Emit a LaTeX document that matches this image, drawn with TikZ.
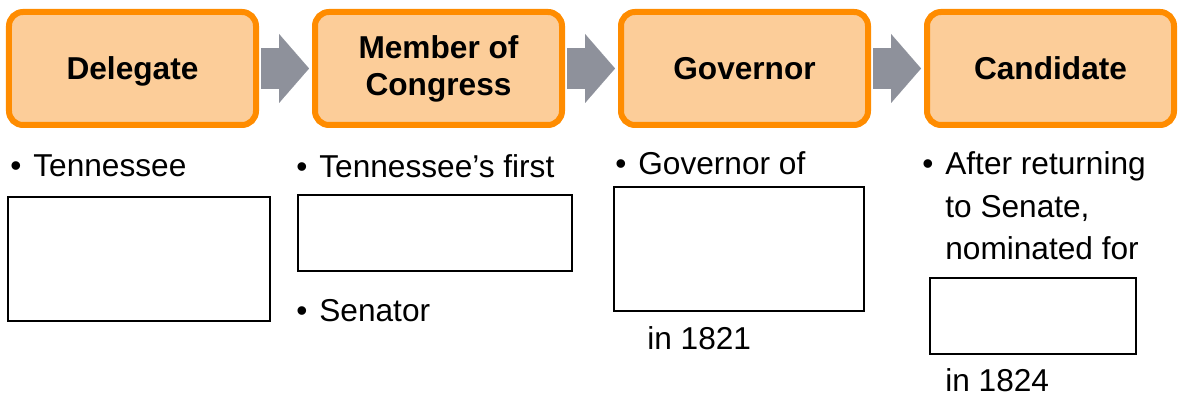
\documentclass[tikz,border=0pt]{standalone}
\usepackage{fontspec}
\setmainfont{Liberation Sans}
\usepackage{xcolor}
\usepackage{tikz}
\usetikzlibrary{positioning}
\usetikzlibrary{arrows.meta}
\definecolor{stageline}{RGB}{255,140,0}
\definecolor{stagefill}{RGB}{252,205,153}
\definecolor{flowgray}{RGB}{142,145,155}
\newcommand{\itm}{\makebox[0.46cm][l]{•}}
\tikzset{>=stealth}
\tikzset{
  stage/.style={draw=stageline, fill=stagefill, line width=0.12cm, rounded corners=0.28cm,
    minimum width=4.94cm, minimum height=2.26cm, align=center,
    font=\fontsize{18}{21}\selectfont\bfseries},
  flow/.style={color=flowgray, line width=0.82cm,
    -{Triangle[length=0.6cm,width=1.38cm,line width=0.01pt]},
    shorten <=0.04cm, shorten >=0.06cm},
  blank/.style={draw, line width=0.04cm, outer sep=0pt, anchor=north west},
  point/.style={anchor=base west, inner sep=0pt, align=left,
    font=\fontsize{18}{24.2}\selectfont}
}

\begin{document}
\begin{tikzpicture}[node distance=1.06cm]
        \useasboundingbox (0,0) rectangle (23.58,7.92);
        % the four stages
        \node[stage, text depth=0pt] (dlg) at (2.65,6.55) {Delegate};
        \node[stage, right=of dlg] (cng) {Member of\\Congress};
        \node[stage, right=of cng] (gov) {Governor};
        \node[stage, right=of gov] (cnd) {Candidate};
        \path[flow]
          (dlg) edge (cng)
          (cng) edge (gov)
          (gov) edge (cnd);
        % notes under each stage
        \node[point] (dlg-a) at (0.20,4.38) {\itm Tennessee};
        \node[blank, minimum width=5.24cm, minimum height=2.48cm] (dlg-b) at (0.16,3.98) {};
        \node[point] (cng-a) at (5.92,4.36) {\itm Tennessee’s first};
        \node[blank, minimum width=5.48cm, minimum height=1.52cm] (cng-b) at (5.96,4.02) {};
        \node[point] (cng-c) at (5.92,1.48) {\itm Senator};
        \node[point] (gov-a) at (12.30,4.42) {\itm Governor of};
        \node[blank, minimum width=5.0cm, minimum height=2.48cm] (gov-b) at (12.27,4.18) {};
        \node[point] (gov-c) at (12.94,0.92) {in 1821};
        % base of a multi-line node is its last line
        \node[point] (cnd-a) at (18.44,2.72) {\itm After returning\\\phantom{\itm}to Senate,\\\phantom{\itm}nominated for};
        \node[blank, minimum width=4.12cm, minimum height=1.52cm] (cnd-b) at (18.6,2.36) {};
        \node[point] (cnd-c) at (18.9,0.08) {in 1824};
\end{tikzpicture}
\end{document}
